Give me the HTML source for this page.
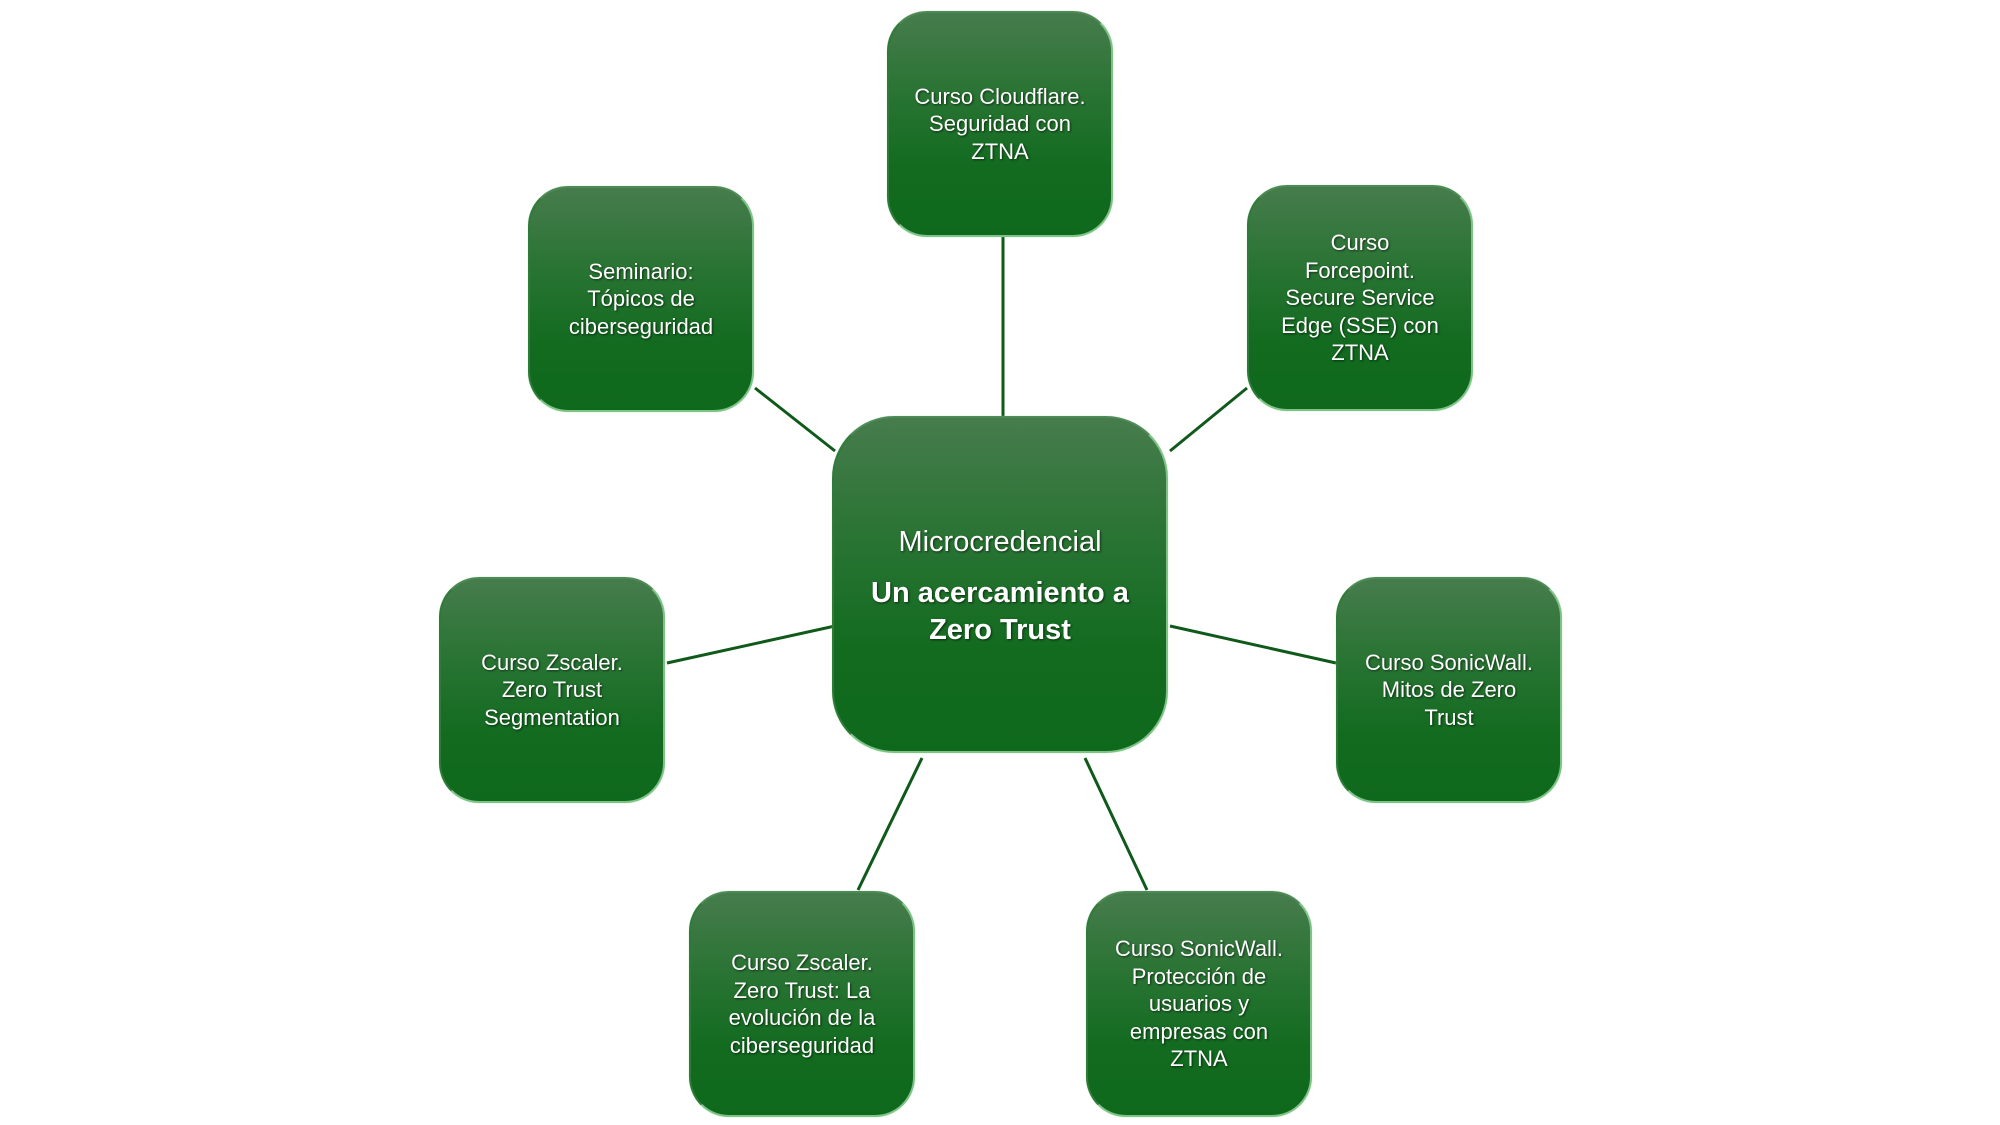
<!DOCTYPE html>
<html><head><meta charset="utf-8"><style>
body{margin:0;width:2000px;height:1125px;background:#fff;position:relative;overflow:hidden;font-family:"Liberation Sans",sans-serif}
.b{position:absolute;width:226px;height:226px;box-sizing:border-box;border-radius:40px;background:linear-gradient(#477c4d 0%,#2a7434 35%,#126b1f 70%,#0f691c 100%);border:2px solid #7cc385;border-left-color:#2f7a38;border-top-color:#4e8a55;display:flex;align-items:center;justify-content:center;text-align:center;color:#fff;font-size:22px;line-height:27.5px;text-shadow:1px 1px 2px rgba(0,0,0,.6);white-space:nowrap;box-shadow:0 0 1px #9ed5a4}
.c{width:336px;height:337px;border-radius:62px;flex-direction:column;font-size:29px;line-height:37px}
svg{position:absolute;left:0;top:0}
</style></head><body>
<svg width="2000" height="1125"><g stroke="#0f5a1a" stroke-width="3">
<line x1="1003" y1="237" x2="1003" y2="418"/>
<line x1="755" y1="388" x2="835" y2="451"/>
<line x1="1247" y1="388" x2="1170" y2="451"/>
<line x1="667" y1="663" x2="835" y2="626"/>
<line x1="1170" y1="626" x2="1336" y2="663"/>
<line x1="922" y1="758" x2="858" y2="890"/>
<line x1="1085" y1="758" x2="1147" y2="890"/>
</g></svg>
<div class="b" style="left:887px;top:11px"><div>Curso Cloudflare.<br>Seguridad con<br>ZTNA</div></div>
<div class="b" style="left:528px;top:186px"><div>Seminario:<br>Tópicos de<br>ciberseguridad</div></div>
<div class="b" style="left:1247px;top:185px"><div>Curso<br>Forcepoint.<br>Secure Service<br>Edge (SSE) con<br>ZTNA</div></div>
<div class="b" style="left:439px;top:577px"><div>Curso Zscaler.<br>Zero Trust<br>Segmentation</div></div>
<div class="b" style="left:1336px;top:577px"><div>Curso SonicWall.<br>Mitos de Zero<br>Trust</div></div>
<div class="b" style="left:689px;top:891px"><div>Curso Zscaler.<br>Zero Trust: La<br>evolución de la<br>ciberseguridad</div></div>
<div class="b" style="left:1086px;top:891px"><div>Curso SonicWall.<br>Protección de<br>usuarios y<br>empresas con<br>ZTNA</div></div>
<div class="b c" style="left:832px;top:416px;padding-top:4px"><div>Microcredencial</div><div style="font-weight:bold;margin-top:14px">Un acercamiento a<br>Zero Trust</div></div>
</body></html>
